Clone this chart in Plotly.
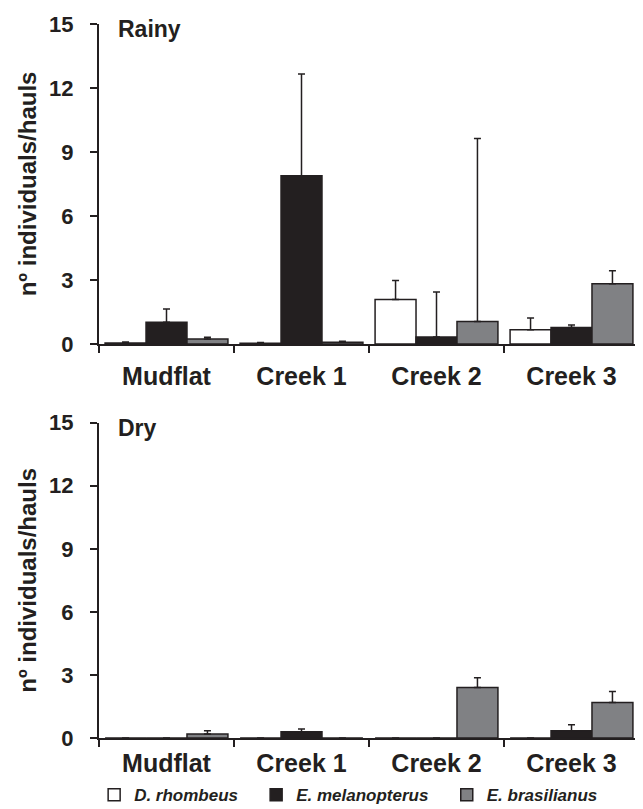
import plotly.graph_objects as go

# ---- data ----
sites = ["Mudflat", "Creek 1", "Creek 2", "Creek 3"]
species = ["D. rhombeus", "E. melanopterus", "E. brasilianus"]

rainy_d_rhombeus = [0.04, 0.03, 2.08, 0.66]
rainy_d_rhombeus_err = [0.05, 0.04, 0.90, 0.56]
rainy_e_melanopterus = [1.02, 7.88, 0.32, 0.77]
rainy_e_melanopterus_err = [0.62, 4.78, 2.12, 0.12]
rainy_e_brasilianus = [0.23, 0.08, 1.05, 2.82]
rainy_e_brasilianus_err = [0.08, 0.05, 8.58, 0.61]

dry_d_rhombeus = [0, 0, 0, 0]
dry_d_rhombeus_err = [0, 0, 0, 0]
dry_e_melanopterus = [0, 0.30, 0, 0.34]
dry_e_melanopterus_err = [0, 0.13, 0, 0.29]
dry_e_brasilianus = [0.19, 0, 2.40, 1.69]
dry_e_brasilianus_err = [0.15, 0, 0.47, 0.52]

y_ticks = [0, 3, 6, 9, 12, 15]

# ---- style ----
INK = "#231f20"
fills = ["#ffffff", "#231f20", "#808184"]
FONT = "Liberation Sans"
legend_ids = ["legend", "legend2", "legend3"]
legend_x = [-0.009, 0.291, 0.644]

fig = go.Figure()

panels = [
    ("x", "y", [rainy_d_rhombeus, rainy_e_melanopterus, rainy_e_brasilianus],
     [rainy_d_rhombeus_err, rainy_e_melanopterus_err, rainy_e_brasilianus_err], True),
    ("x2", "y2", [dry_d_rhombeus, dry_e_melanopterus, dry_e_brasilianus],
     [dry_d_rhombeus_err, dry_e_melanopterus_err, dry_e_brasilianus_err], False),
]

for xa, ya, vals, errs, show in panels:
    for i, name in enumerate(species):
        fig.add_trace(go.Bar(
            x=sites, y=vals[i], name=name, legendgroup=name, showlegend=show,
            legend=legend_ids[i],
            xaxis=xa, yaxis=ya,
            marker=dict(color=fills[i], line=dict(color=INK, width=1.5)),
            error_y=dict(type="data", array=errs[i], symmetric=False,
                         arrayminus=[0] * len(sites),
                         color=INK, thickness=1.5, width=3.5),
        ))

xcommon = dict(
    type="category", categoryorder="array", categoryarray=sites,
    range=[-0.5, 3.5], tickson="boundaries", ticks="outside", ticklen=7,
    tickwidth=2, tickcolor=INK, showline=True, linecolor=INK, linewidth=2,
    showgrid=False, zeroline=False,
    tickfont=dict(family=FONT, size=25, color=INK, weight="bold"),
)
ycommon = dict(
    range=[0, 15], tickvals=y_ticks, ticks="outside", ticklen=7, tickwidth=2,
    tickcolor=INK, showline=True, linecolor=INK, linewidth=2,
    showgrid=False, zeroline=False, ticklabelstandoff=12,
    tickfont=dict(family=FONT, size=22, color=INK, weight="bold"),
    title=dict(text="nº individuals/hauls", standoff=6,
               font=dict(family=FONT, size=24, color=INK, weight="bold")),
)

legend_font = dict(family=FONT, size=17, color=INK, weight="bold", style="italic")
legends = {}
for lid, lx in zip(legend_ids, legend_x):
    legends[lid] = dict(orientation="h", x=lx, xanchor="left", y=-0.080,
                        yanchor="middle", font=legend_font,
                        bgcolor="rgba(0,0,0,0)")

# the page body has an 8px margin: shift margins by 8px; the figure runs
# slightly past the bottom of the window so the legend keeps its room
fig.update_layout(
    width=635, height=809,
    margin=dict(l=91, r=4, t=9, b=77),
    paper_bgcolor="white", plot_bgcolor="white",
    barmode="group", bargap=0.09, bargroupgap=0,
    xaxis=dict(xcommon, anchor="y", domain=[0, 1], ticklabelstandoff=9),
    xaxis2=dict(xcommon, anchor="y2", domain=[0, 1], ticklabelstandoff=2),
    yaxis=dict(ycommon, anchor="x", domain=[0.5519, 1]),
    yaxis2=dict(ycommon, anchor="x2", domain=[0, 0.4416]),
    annotations=[
        dict(text="Rainy", xref="x domain", yref="y domain", x=0.031, y=1.0,
             xanchor="left", yanchor="middle", yshift=-5, showarrow=False,
             font=dict(family=FONT, size=23, color=INK, weight="bold")),
        dict(text="Dry", xref="x2 domain", yref="y2 domain", x=0.031, y=1.0,
             xanchor="left", yanchor="middle", yshift=-5, showarrow=False,
             font=dict(family=FONT, size=23, color=INK, weight="bold")),
    ],
    **legends,
)

fig.write_html("out.html")
